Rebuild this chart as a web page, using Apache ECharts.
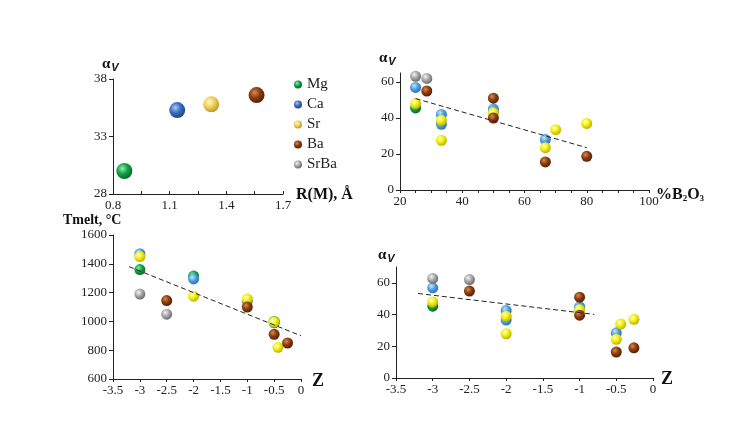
<!DOCTYPE html>
<html><head><meta charset="utf-8">
<script src="https://cdn.jsdelivr.net/npm/echarts@6/dist/echarts.min.js"></script>
<style>html,body{margin:0;padding:0;background:#fff}#c{width:730px;height:445px}</style>
</head><body><div id="c"></div><script>
// ---- Panel 1: alpha_V vs R(M), Å ----
const p1Mg = [[0.86, 30.0]];
const p1Ca = [[1.14, 35.3]];
const p1Sr = [[1.32, 35.8]];
const p1Ba = [[1.56, 36.6]];

// ---- Panel 2: alpha_V vs %B2O3 ----
const p2Mg = [[25, 45.6]];
const p2Ca = [[25, 57], [33.3, 42], [33.3, 36.5], [50, 45], [50, 44], [66.7, 28]];
const p2Sr = [[25, 48], [33.3, 38.7], [33.3, 27.6], [50, 42.8], [66.7, 23.5], [70, 33.5], [80, 37]];
const p2Ba = [[28.6, 55], [50, 51], [50, 40], [66.7, 15.6], [80, 18.7]];
const p2SrBa = [[25, 63.2], [28.6, 62]];
const p2Trend = [[25, 50.8], [80, 23.5]];

// ---- Panel 3: Tmelt vs Z ----
const p3Mg = [[-3, 1360], [-2, 1315], [-0.5, 1000]];
const p3Ca = [[-3, 1470], [-2, 1295], [-1, 1140], [-0.5, 990]];
const p3Sr = [[-3, 1450], [-2, 1175], [-1, 1155], [-0.5, 995], [-0.43, 820]];
const p3Ba = [[-2.5, 1145], [-1, 1100], [-0.5, 910], [-0.25, 850]];
const p3SrBa = [[-3, 1190], [-2.5, 1050]];
const p3Trend = [[-3.2, 1380], [0, 900]];

// ---- Panel 4: alpha_V vs Z ----
const p4Mg = [[-3, 45.3]];
const p4Ca = [[-3, 56.9], [-2, 42.6], [-2, 36.5], [-1, 45], [-1, 44], [-0.5, 28.5]];
const p4Sr = [[-3, 48], [-2, 39], [-2, 27.9], [-1, 43], [-0.5, 24.4], [-0.44, 34], [-0.26, 37]];
const p4Ba = [[-2.5, 54.8], [-1, 51], [-1, 39.6], [-0.5, 16.4], [-0.26, 19]];
const p4SrBa = [[-3, 62.8], [-2.5, 62.1]];
const p4Trend = [[-3.2, 53.3], [-0.8, 40.1]];

const legendNames = ['Mg', 'Ca', 'Sr', 'Ba', 'SrBa'];

function ball(light, base, dark) {
  return { type: 'radial', x: 0.38, y: 0.35, r: 0.75,
    colorStops: [{offset: 0, color: light}, {offset: 0.45, color: base}, {offset: 1, color: dark}] };
}
const C = {
  Mg: ball('#8ff0ae', '#12a046', '#045a22'),
  Ca1: ball('#a9c8f5', '#3a6cc0', '#1a3a78'),
  Sr1: ball('#fff8cc', '#f0cf58', '#b08a20'),
  Ca: ball('#c8e8ff', '#4d9fe2', '#2468a8'),
  Sr: ball('#ffffc8', '#f2ee08', '#a8a000'),
  Ba: ball('#d58a55', '#8c3c0c', '#4a1800'),
  SrBa: ball('#f4f4f4', '#a6a6a6', '#5c5c5c')
};

const FONT = 'Liberation Serif';
const axisLine = { onZero: false, lineStyle: { color: '#222', width: 1 } };
const lbl = { color: '#222', fontFamily: FONT, fontSize: 13 };
const plain = function (v) { return String(+(+v).toFixed(2)); };

function sc(name, data, color, gi, size) {
  return { type: 'scatter', name: name, data: data, xAxisIndex: gi, yAxisIndex: gi,
    symbolSize: size, itemStyle: { color: color, opacity: 1 }, emphasis: { disabled: true } };
}
function trend(data, gi) {
  return { type: 'line', data: data, xAxisIndex: gi, yAxisIndex: gi, symbol: 'none', silent: true,
    lineStyle: { color: '#222', width: 1, type: [5, 3] } };
}

const S = 11;
const series = [
  sc('Mg', p1Mg, C.Mg, 0, 16), sc('Ca', p1Ca, C.Ca1, 0, 16), sc('Sr', p1Sr, C.Sr1, 0, 16), sc('Ba', p1Ba, C.Ba, 0, 16),
  trend(p2Trend, 1),
  sc('Mg', p2Mg, C.Mg, 1, S), sc('Ca', p2Ca, C.Ca, 1, S), sc('Sr', p2Sr, C.Sr, 1, S), sc('Ba', p2Ba, C.Ba, 1, S), sc('SrBa', p2SrBa, C.SrBa, 1, S),
  trend(p3Trend, 2),
  sc('Mg', p3Mg, C.Mg, 2, S), sc('Ca', p3Ca, C.Ca, 2, S), sc('Sr', p3Sr, C.Sr, 2, S), sc('Ba', p3Ba, C.Ba, 2, S), sc('SrBa', p3SrBa, C.SrBa, 2, S),
  trend(p4Trend, 3),
  sc('Mg', p4Mg, C.Mg, 3, S), sc('Ca', p4Ca, C.Ca, 3, S), sc('Sr', p4Sr, C.Sr, 3, S), sc('Ba', p4Ba, C.Ba, 3, S), sc('SrBa', p4SrBa, C.SrBa, 3, S)
];

function xA(gi, min, max, interval, minorSplit, inside) {
  return { type: 'value', gridIndex: gi, min: min, max: max, interval: interval,
    axisLine: axisLine, splitLine: { show: false },
    axisTick: { show: true, inside: !!inside, length: 3, lineStyle: { color: '#222' } },
    minorTick: { show: !!minorSplit, splitNumber: minorSplit || 5, length: 3, lineStyle: { color: '#222' } },
    minorSplitLine: { show: false },
    axisLabel: Object.assign({ margin: 5, formatter: plain }, lbl) };
}
function yA(gi, min, max, interval, custom) {
  const a = { type: 'value', gridIndex: gi, min: min, max: max, interval: interval,
    axisLine: axisLine, splitLine: { show: false },
    axisTick: { show: true, length: 4, lineStyle: { color: '#222' } },
    axisLabel: Object.assign({ margin: 6, formatter: plain }, lbl) };
  if (custom) { a.axisTick.customValues = custom; a.axisLabel.customValues = custom; }
  return a;
}

const av = function (x, y) {
  return { type: 'text', left: x, top: y, silent: true,
    style: { text: '{a|α}{v|V}', rich: {
      a: { fontFamily: FONT, fontWeight: 'bold', fontSize: 15, fill: '#111' },
      v: { fontFamily: 'Liberation Sans', fontWeight: 'bold', fontStyle: 'italic', fontSize: 11, fill: '#111', padding: [6, 0, 0, 1] } } } };
};

const option = {
  animation: false,
  backgroundColor: '#fff',
  textStyle: { fontFamily: FONT },
  grid: [
    { left: 113, top: 79, width: 170, height: 115 },
    { left: 400, top: 73, width: 249, height: 117 },
    { left: 113, top: 235, width: 188, height: 144 },
    { left: 396, top: 267, width: 257, height: 111 }
  ],
  xAxis: [
    xA(0, 0.8, 1.7, 0.3, 2, true),
    xA(1, 20, 100, 20, 4),
    xA(2, -3.5, 0, 0.5, 0),
    xA(3, -3.5, 0, 0.5, 0)
  ],
  yAxis: [
    yA(0, 28, 38, 5),
    yA(1, 0, 65, 20, [0, 20, 40, 60]),
    yA(2, 600, 1600, 200),
    yA(3, 0, 70, 20, [0, 20, 40, 60])
  ],
  legend: {
    orient: 'vertical', left: 289, top: 72, itemWidth: 8, itemHeight: 8, itemGap: 5,
    icon: 'circle', selectedMode: false,
    textStyle: { fontFamily: FONT, fontSize: 15, color: '#222', lineHeight: 15, padding: [0, 0, 0, 0] },
    data: [
      { name: 'Mg', itemStyle: { color: C.Mg } },
      { name: 'Ca', itemStyle: { color: C.Ca1 } },
      { name: 'Sr', itemStyle: { color: C.Sr1 } },
      { name: 'Ba', itemStyle: { color: C.Ba } },
      { name: 'SrBa', itemStyle: { color: C.SrBa } }
    ]
  },
  graphic: [
    av(102, 57), av(379, 51), av(378, 248),
    { type: 'text', left: 63, top: 213, silent: true,
      style: { text: 'Tmelt, °C', fontFamily: FONT, fontWeight: 'bold', fontSize: 14, fill: '#111' } },
    { type: 'text', left: 296, top: 187, silent: true,
      style: { text: 'R(M), Å', fontFamily: FONT, fontWeight: 'bold', fontSize: 16, fill: '#111' } },
    { type: 'text', left: 656, top: 187, silent: true,
      style: { text: '{t|%B}{s|2}{t|O}{s|3}', rich: {
        t: { fontFamily: FONT, fontWeight: 'bold', fontSize: 16, fill: '#111' },
        s: { fontFamily: FONT, fontWeight: 'bold', fontSize: 9, fill: '#111', padding: [7, 0, 0, 0] } } } },
    { type: 'text', left: 312, top: 372, silent: true,
      style: { text: 'Z', fontFamily: FONT, fontWeight: 'bold', fontSize: 18, fill: '#111' } },
    { type: 'text', left: 661, top: 370, silent: true,
      style: { text: 'Z', fontFamily: FONT, fontWeight: 'bold', fontSize: 18, fill: '#111' } }
  ],
  series: series
};
const chart = echarts.init(document.getElementById('c'), null, { renderer: 'canvas' });
chart.setOption(option);
</script></body></html>
